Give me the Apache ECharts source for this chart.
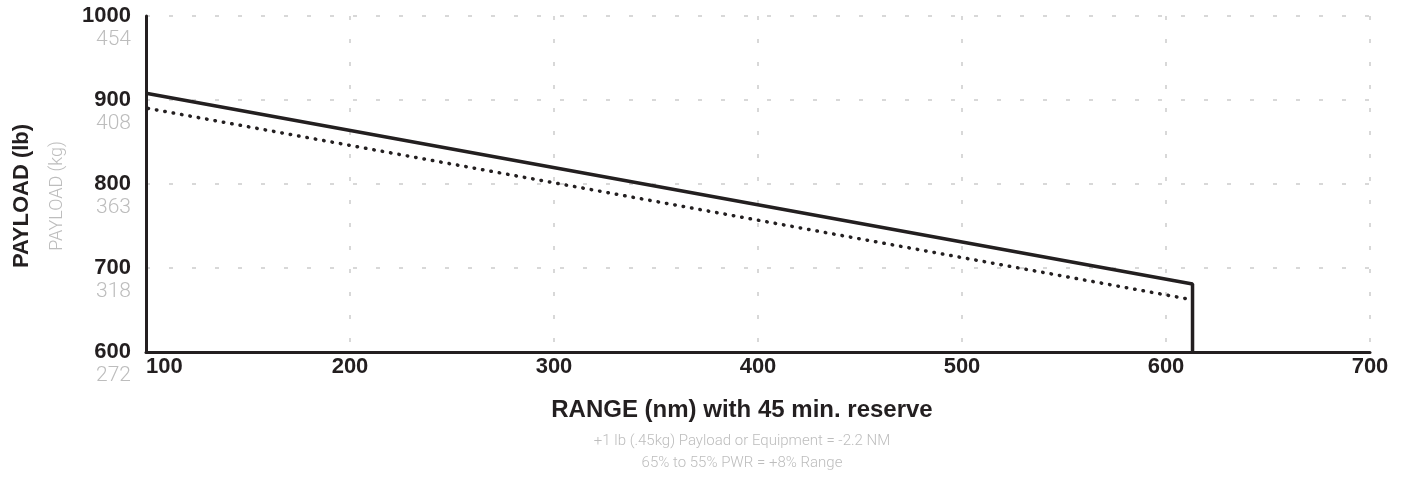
<!DOCTYPE html>
<html><head><meta charset="utf-8">
<script src="https://cdn.jsdelivr.net/npm/echarts@6/dist/echarts.min.js"></script>
<style>html,body{margin:0;padding:0;background:#fff}#c{width:1406px;height:482px}</style>
</head><body><div id="c"></div>
<script>
const xTicks = [100, 200, 300, 400, 500, 600, 700];
const yTicksLb = [600, 700, 800, 900, 1000];
const yTicksKg = ['272', '318', '363', '408', '454'];
const solidSeries = [[100, 908], [613, 681], [613, 600]];
const dottedSeries = [[101, 890], [611, 663]];
const xTitle = 'RANGE (nm) with 45 min. reserve';
const yTitleLb = 'PAYLOAD (lb)';
const yTitleKg = 'PAYLOAD (kg)';
const notes = ['+1 lb (.45kg) Payload or Equipment = -2.2 NM', '65% to 55% PWR = +8% Range'];

const dark = '#231f20', gray = '#bdbdbd';
const FF = '"Liberation Sans", Arial, sans-serif';
const chart = echarts.init(document.getElementById('c'), null, {renderer: 'canvas'});
chart.setOption({
  animation: false,
  grid: {left: 146, right: 36, top: 16, bottom: 130, containLabel: false},
  xAxis: {
    type: 'value', min: xTicks[0], max: xTicks[xTicks.length - 1], interval: 100,
    axisLine: {show: true, onZero: false, lineStyle: {color: dark, width: 3}},
    axisTick: {show: false},
    axisLabel: {color: dark, fontFamily: FF, fontWeight: 'bold', fontSize: 22, margin: 4, alignMinLabel: 'left'},
    splitLine: {show: true, lineStyle: {color: '#cccccc', width: 1.5, type: [4, 19]}}
  },
  yAxis: {
    type: 'value', min: yTicksLb[0], max: yTicksLb[yTicksLb.length - 1], interval: 100,
    axisLine: {show: true, onZero: false, lineStyle: {color: dark, width: 3}},
    axisTick: {show: false},
    axisLabel: {
      margin: 15, padding: [24, 0, 0, 0],
      formatter: function (v) {
        const i = yTicksLb.indexOf(v);
        return '{a|' + v + '}\n{b|' + (i >= 0 ? yTicksKg[i] : '') + '}';
      },
      rich: {
        a: {color: dark, fontFamily: FF, fontWeight: 'bold', fontSize: 22, lineHeight: 24, align: 'right'},
        b: {color: gray, fontFamily: 'Roboto, ' + FF, fontWeight: 300, fontSize: 21, lineHeight: 24, align: 'right'}
      }
    },
    splitLine: {show: true, lineStyle: {color: '#cccccc', width: 1.5, type: [4, 19]}}
  },
  series: [
    {type: 'line', data: solidSeries, symbol: 'none', clip: false,
     lineStyle: {color: dark, width: 3.5}},
    {type: 'line', data: dottedSeries, symbol: 'none', clip: false,
     lineStyle: {color: dark, width: 3.5, type: [0.5, 8], cap: 'round'}}
  ],
  graphic: [
    {type: 'text', x: 22, y: 196, rotation: Math.PI / 2,
     style: {text: yTitleLb, fill: dark, font: 'bold 22px ' + FF, textAlign: 'center', textVerticalAlign: 'middle'}},
    {type: 'text', x: 57, y: 196, rotation: Math.PI / 2,
     style: {text: yTitleKg, fill: gray, font: '300 18px Roboto, ' + FF, textAlign: 'center', textVerticalAlign: 'middle'}},
    {type: 'text', x: 742, y: 410,
     style: {text: xTitle, fill: dark, font: 'bold 24px ' + FF, textAlign: 'center', textVerticalAlign: 'middle'}},
    {type: 'text', x: 742, y: 441,
     style: {text: notes[0], fill: gray, font: '300 15px Roboto, ' + FF, textAlign: 'center', textVerticalAlign: 'middle'}},
    {type: 'text', x: 742, y: 463,
     style: {text: notes[1], fill: gray, font: '300 15px Roboto, ' + FF, textAlign: 'center', textVerticalAlign: 'middle'}}
  ]
});
</script></body></html>
